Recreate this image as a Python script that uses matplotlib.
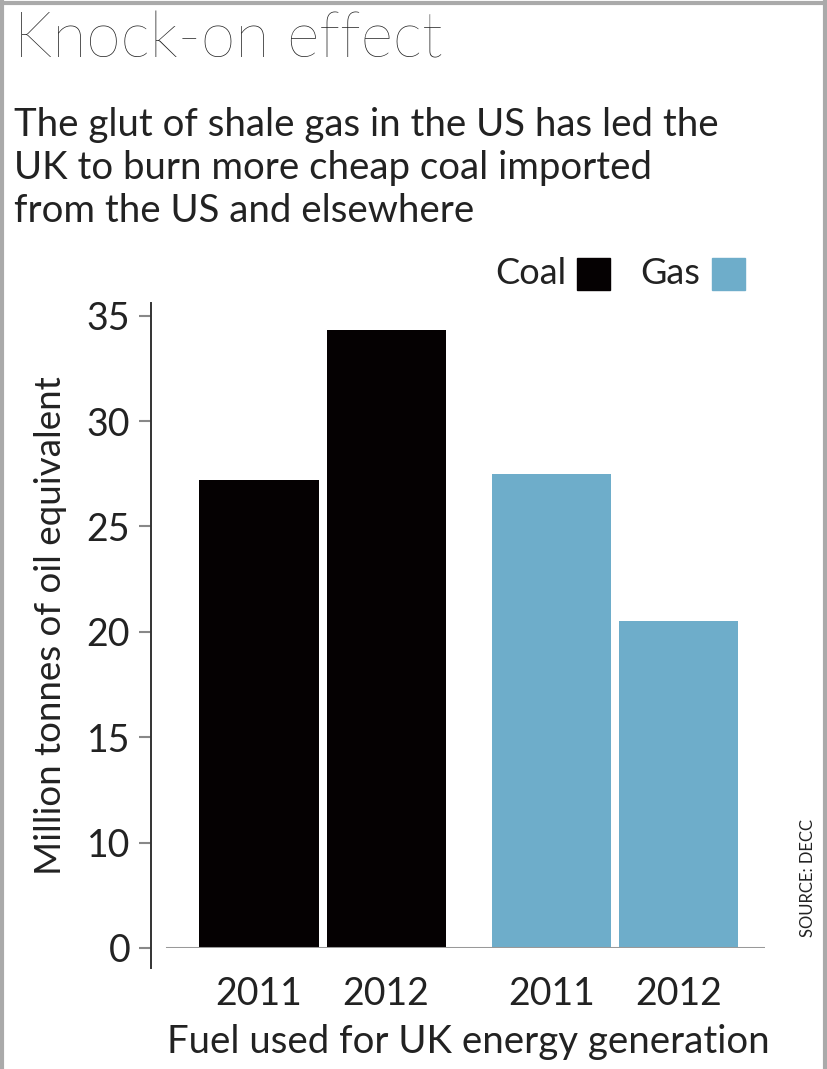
import numpy as np
import matplotlib
matplotlib.use("Agg")
import matplotlib.pyplot as plt
from matplotlib.lines import Line2D
from matplotlib.patches import Rectangle

plt.rcParams['font.family'] = ['Lato', 'DejaVu Sans']

# Mtoe burned for UK energy generation
fuels = ['Coal', 'Gas']
years = ['2011', '2012', '2011', '2012']
values = [27.2, 34.3, 27.5, 20.5]
bar_colors = ['#050102', '#050102', '#6eadca', '#6eadca']
positions = [0, 1, 2.3, 3.3]

ytick_vals = [5, 10, 15, 20, 25, 30, 35]
ytick_labels = ['0', '10', '15', '20', '25', '30', '35']

TEXT = '#222222'
W, H = 827, 1069

fig = plt.figure(figsize=(W / 100, H / 100), dpi=100)
fig.patch.set_facecolor('white')


def px(x, y):
    return x / W, 1 - y / H


# axes placed in pixel terms
left, right, top, bottom = 151, 765, 303, 948
ax = fig.add_axes([left / W, 1 - bottom / H, (right - left) / W, (bottom - top) / H])

ax.bar(positions, values, width=0.937, color=bar_colors, zorder=2)
ax.set_xlim(-0.85, 3.98)
ax.set_ylim(5, 35.6)

for s in ['top', 'right', 'bottom']:
    ax.spines[s].set_visible(False)
ax.spines['left'].set_color('#333333')
ax.spines['left'].set_linewidth(1.4)
ax.spines['left'].set_bounds(4.05, 35.6)

ax.axhline(5, xmin=0.026, xmax=1.0, color='#999999', lw=2.2, zorder=3)

ax.set_yticks(ytick_vals)
ax.set_yticklabels(ytick_labels)
ax.tick_params(axis='y', length=9, width=1.5, color='#888888', pad=6,
               labelsize=27, labelcolor=TEXT)
ax.set_xticks(positions)
ax.set_xticklabels(years)
ax.tick_params(axis='x', length=0, pad=20, labelsize=27, labelcolor=TEXT)

ax.set_ylabel('Million tonnes of oil equivalent', fontsize=26.5, color=TEXT, labelpad=14)

# headline and standfirst
fig.text(*px(14, 40), 'Knock-on effect', fontsize=45, fontweight='light',
         color=TEXT, va='center', ha='left')
sub = ['The glut of shale gas in the US has led the',
       'UK to burn more cheap coal imported',
       'from the US and elsewhere']
for i, line in enumerate(sub):
    fig.text(*px(14, 125 + 43 * i), line, fontsize=27.6, color=TEXT,
             va='center', ha='left')

# legend
fig.text(*px(495, 274), 'Coal', fontsize=26, color=TEXT, va='center', ha='left')
fig.add_artist(Rectangle(px(577, 290), 33 / W, 32 / H, color=bar_colors[0],
                         transform=fig.transFigure))
fig.text(*px(640, 274), 'Gas', fontsize=26, color=TEXT, va='center', ha='left')
fig.add_artist(Rectangle(px(712, 290), 33 / W, 32 / H, color=bar_colors[2],
                         transform=fig.transFigure))

fig.text(*px(468, 1042), 'Fuel used for UK energy generation', fontsize=27.6,
         color=TEXT, va='center', ha='center')
fig.text(*px(808, 878), 'SOURCE: DECC', fontsize=12, color=TEXT,
         rotation=90, va='center', ha='center')

# thin frame on top and sides
for xs, ys in [([0, 1], [0.997, 0.997]), ([0.002, 0.002], [0, 1]),
               ([0.998, 0.998], [0, 1])]:
    fig.add_artist(Line2D(xs, ys, color='#aaaaaa', lw=3, transform=fig.transFigure))

fig.savefig('out.png', dpi=100)
